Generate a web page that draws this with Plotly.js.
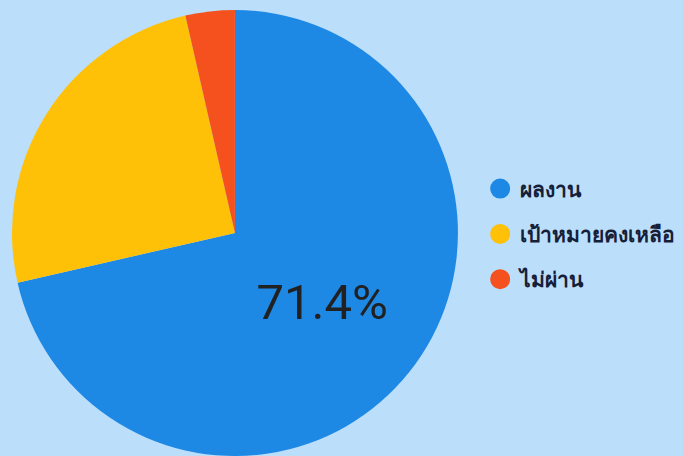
<!DOCTYPE html>
<html>
<head>
<meta charset="utf-8">
<script src="https://cdn.plot.ly/plotly-3.0.1.min.js"></script>
<style>
html,body{margin:0;padding:0;background:#BBDEFB;}
#chart{width:683px;height:456px;}
</style>
</head>
<body>
<div id="chart"></div>
<script>
const labels = ['ผลงาน', 'เป้าหมายคงเหลือ', 'ไม่ผ่าน'];
const values = [20, 7, 1];
const colors = ['#1E88E5', '#FFC107', '#F4511E'];
const shownText = ['%{percent:.1%}', '', ''];

const pie = {
  type: 'pie',
  labels: labels,
  values: values,
  sort: false,
  direction: 'clockwise',
  rotation: 0,
  marker: {colors: colors, line: {width: 0}},
  texttemplate: shownText,
  textposition: 'inside',
  insidetextorientation: 'horizontal',
  insidetextfont: {family: 'Roboto', size: 49, color: '#212121'},
  hoverinfo: 'label+percent',
  showlegend: false,
  domain: {x: [0.017, 0.671], y: [0, 0.978]}
};

const legendTraces = labels.map((l, i) => ({
  type: 'scatter',
  mode: 'markers',
  x: [null], y: [null],
  name: l,
  legendgroup: 'g' + i,
  marker: {symbol: 'circle', size: 18, color: colors[i], line: {width: 4, color: colors[i]}},
  showlegend: true,
  hoverinfo: 'skip'
}));

const layout = {
  width: 683, height: 456,
  margin: {l: 0, r: 0, t: 0, b: 0},
  paper_bgcolor: '#BBDEFB',
  plot_bgcolor: '#BBDEFB',
  xaxis: {visible: false},
  yaxis: {visible: false},
  showlegend: true,
  legend: {
    x: 0.703, xanchor: 'left',
    y: 0.487, yanchor: 'middle',
    bgcolor: 'rgba(0,0,0,0)',
    font: {family: 'Roboto, "Noto Sans", sans-serif', size: 21, color: '#152038', weight: 600},
    tracegroupgap: 15,
    itemclick: false
  }
};

Plotly.newPlot('chart', [pie].concat(legendTraces), layout, {displayModeBar: false, staticPlot: true});
</script>
</body>
</html>
